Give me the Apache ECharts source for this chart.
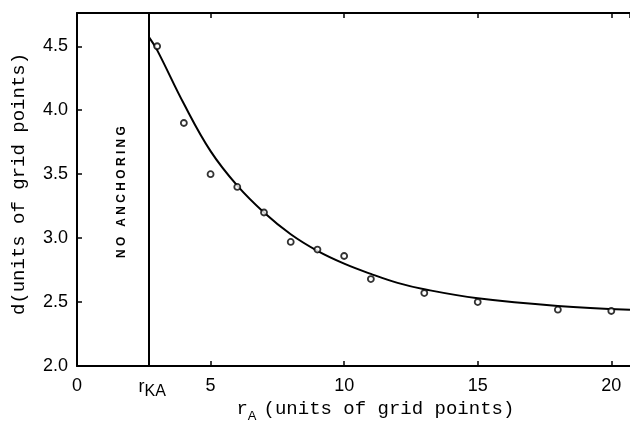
<!DOCTYPE html>
<html>
<head>
<meta charset="utf-8">
<script src="https://cdn.jsdelivr.net/npm/echarts@6/dist/echarts.min.js"></script>
<style>
  html, body { margin: 0; padding: 0; background: #fff; }
  #chart { width: 630px; height: 427px; }
</style>
</head>
<body>
<div id="chart"></div>
<script>
// critical radius (vertical line)
var rKA = 2.7;

// measured points
var pointR = [3, 4, 5, 6, 7, 8, 9, 10, 11, 13, 15, 18, 20];
var pointD = [4.50, 3.90, 3.50, 3.40, 3.20, 2.97, 2.91, 2.86, 2.68, 2.57, 2.50, 2.44, 2.43];

// fitted curve
var fitR = [2.7, 3, 4, 5, 6, 7, 8, 9, 10, 11, 12, 13, 15, 18, 20.7];
var fitD = [4.57, 4.47, 4.05, 3.68, 3.41, 3.20, 3.03, 2.90, 2.80, 2.72, 2.65, 2.60, 2.53, 2.47, 2.44];

var labelFont = 'Liberation Sans';
var titleFont = 'Liberation Mono';

function pairs(xs, ys) {
  return xs.map(function (x, i) { return [x, ys[i]]; });
}

var chart = echarts.init(document.getElementById('chart'));

var axisLine = { show: true, lineStyle: { color: '#000', width: 2 } };
var axisTick = { show: true, inside: true, length: 5, lineStyle: { color: '#000', width: 1.5 } };

chart.setOption({
  animation: false,
  backgroundColor: '#fff',
  grid: { left: 77, right: 0, top: 13, bottom: 61, containLabel: false, outerBoundsMode: 'none' },
  xAxis: [{
    type: 'value',
    min: 0, max: 20.7, interval: 5,
    axisLine: axisLine,
    axisTick: axisTick,
    splitLine: { show: false },
    axisLabel: {
      color: '#000', fontFamily: labelFont, fontSize: 18, margin: 11,
      showMaxLabel: false
    }
  }, {
    type: 'value', position: 'top',
    min: 0, max: 20.7, interval: 5,
    axisLine: axisLine,
    axisTick: axisTick,
    splitLine: { show: false },
    axisLabel: { show: false }
  }],
  yAxis: {
    type: 'value',
    min: 2, max: 4.76, interval: 0.5,
    axisLine: axisLine,
    axisTick: axisTick,
    splitLine: { show: false },
    axisLabel: {
      color: '#000', fontFamily: labelFont, fontSize: 18, margin: 9,
      showMaxLabel: false,
      formatter: function (v) { return v.toFixed(1); }
    }
  },
  series: [{
    type: 'line',
    data: pairs(fitR, fitD),
    smooth: 0.4,
    symbol: 'none',
    lineStyle: { color: '#000', width: 2 },
    markLine: {
      silent: true,
      symbol: 'none',
      lineStyle: { color: '#000', width: 2, type: 'solid' },
      label: {
        show: true,
        position: 'start',
        distance: 12,
        formatter: '{r|r}{s|KA}',
        rich: {
          r: { fontFamily: labelFont, fontSize: 18, color: '#000', verticalAlign: 'top', padding: [0, 0, 0, 6] },
          s: { fontFamily: labelFont, fontSize: 16, color: '#000', padding: [6, 0, 0, 0] }
        }
      },
      data: [{ xAxis: rKA }]
    }
  }, {
    type: 'scatter',
    data: pairs(pointR, pointD),
    symbol: 'circle',
    symbolSize: 6,
    itemStyle: { color: '#fff', borderColor: '#000', borderWidth: 1.8 },
    z: 5
  }]
});

// text labels placed through the axes
var noAnchor = chart.convertToPixel({ gridIndex: 0 }, [1.66, 3.36]);
var xName = chart.convertToPixel({ gridIndex: 0 }, [11.17, 2]);

chart.setOption({
  graphic: [{
    type: 'text',
    x: noAnchor[0], y: noAnchor[1],
    rotation: Math.PI / 2,
    style: {
      text: 'N O   A N C H O R I N G',
      fontFamily: labelFont, fontWeight: 'bold', fontSize: 12,
      fill: '#000', align: 'center', verticalAlign: 'middle'
    }
  }, {
    type: 'text',
    x: 19, y: 184,
    rotation: Math.PI / 2,
    style: {
      text: 'd(units of grid points)',
      fontFamily: titleFont, fontSize: 19,
      fill: '#000', align: 'center', verticalAlign: 'middle'
    }
  }, {
    type: 'text',
    x: xName[0], y: 409,
    style: {
      text: '{r|r}{s|A}(units of grid points)',
      fontFamily: titleFont, fontSize: 19,
      fill: '#000', align: 'center', verticalAlign: 'middle',
      rich: {
        r: { fontFamily: titleFont, fontSize: 19, fill: '#000' },
        s: { fontFamily: labelFont, fontSize: 13, fill: '#000', padding: [14, 7, 0, 0] }
      }
    }
  }]
});
</script>
</body>
</html>
